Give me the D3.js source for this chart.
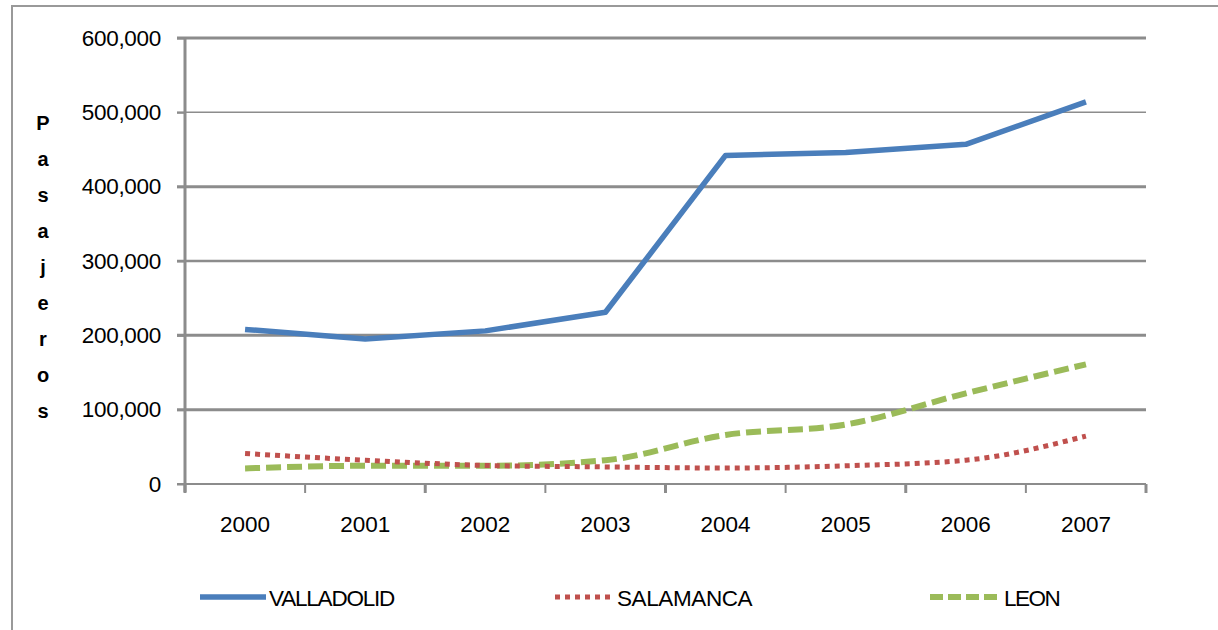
<!DOCTYPE html>
<html><head><meta charset="utf-8">
<script src="https://cdn.jsdelivr.net/npm/d3@7"></script>
<style>
html,body{margin:0;padding:0;background:#fff;}
svg{display:block;}
text{font-family:"Liberation Sans",Arial,sans-serif;}
</style></head>
<body>
<script>
const years = ["2000","2001","2002","2003","2004","2005","2006","2007"];
const valladolid = [208000,195000,206000,231000,442000,446000,457000,514000];
const salamanca = [41000,32000,25000,23000,21500,24500,32000,64500];
const leon = [21000,24500,24500,32000,66000,80000,122000,161000];
const yTicks = [0,100000,200000,300000,400000,500000,600000];
const yLabelText = "Pasajeros";

const W=1218,H=630;
const svg=d3.select("body").append("svg").attr("width",W).attr("height",H);

// frame
svg.append("path").attr("d","M12,630 L12,6 L1218,6").attr("fill","none").attr("stroke","#999").attr("stroke-width",2);

const x=d3.scaleBand().domain(years).range([185,1146]);
const y=d3.scaleLinear().domain([0,600000]).range([484,38]);

// gridlines
const gw={0:2,100000:3,200000:3,300000:2.5,400000:3,500000:1.5,600000:3};
svg.append("g").selectAll("line").data(yTicks.filter(d=>d>0)).join("line")
  .attr("x1",177).attr("x2",1146).attr("y1",d=>y(d)).attr("y2",d=>y(d))
  .attr("stroke","#8c8c8c").attr("stroke-width",d=>gw[d]);

// y axis
const ya=svg.append("g").attr("transform","translate(185,0)")
  .call(d3.axisLeft(y).tickValues(yTicks).tickSize(8).tickPadding(16).tickFormat(d3.format(",")));
ya.select(".domain").attr("stroke","#8c8c8c").attr("stroke-width",3).attr("d","M0,38V492");
ya.selectAll(".tick line").attr("stroke","#8c8c8c").attr("stroke-width",2);
ya.selectAll("text").attr("font-size",22.5).attr("fill","#000").attr("letter-spacing",-0.3)
  .attr("font-family","Liberation Sans, Arial, sans-serif");

// x axis
const xa=svg.append("g").attr("transform","translate(0,484)")
  .call(d3.axisBottom(x).tickSize(0).tickPadding(32));
xa.select(".domain").attr("stroke","#8c8c8c").attr("stroke-width",2).attr("d","M177,0H1146");
xa.selectAll("text").attr("font-size",22.5).attr("fill","#000").attr("font-family","Liberation Sans, Arial, sans-serif");
const bounds=[...years.map(d=>x(d)),x.range()[1]];
svg.append("g").selectAll("line").data(bounds).join("line")
  .attr("x1",d=>d).attr("x2",d=>d).attr("y1",484).attr("y2",493)
  .attr("stroke","#8c8c8c").attr("stroke-width",(d,i)=>i%2?2:3);

// y label stacked
svg.append("g").selectAll("text").data(yLabelText.split("")).join("text")
  .attr("x",43).attr("y",(d,i)=>129.5+i*36.1).attr("text-anchor","middle")
  .attr("font-size",20).attr("font-weight","bold").attr("fill","#000").text(d=>d);

const line=d3.line().x((d,i)=>x(years[i])+x.bandwidth()/2).y(d=>y(d)).curve(d3.curveMonotoneX);
const lineStraight=d3.line().x((d,i)=>x(years[i])+x.bandwidth()/2).y(d=>y(d));

svg.append("path").datum(valladolid).attr("d",lineStraight).attr("fill","none")
  .attr("stroke","#4a7ebb").attr("stroke-width",5.5).attr("stroke-linejoin","round");
svg.append("path").datum(leon).attr("d",line).attr("fill","none")
  .attr("stroke","#9bbb59").attr("stroke-width",6).attr("stroke-dasharray","15,6");
svg.append("path").datum(salamanca).attr("d",line).attr("fill","none")
  .attr("stroke","#c0504d").attr("stroke-width",5).attr("stroke-dasharray","5,5");

// legend
const legend=[
  {name:"VALLADOLID",color:"#4a7ebb",dash:null,w:5.5,x0:200,x1:266,tx:269,ls:-1.2},
  {name:"SALAMANCA",color:"#c0504d",dash:"5,5",w:5,x0:555,x1:615,tx:617,ls:-0.4},
  {name:"LEON",color:"#9bbb59",dash:"13,5",w:6,x0:930,x1:1000,tx:1004,ls:-1.5}
];
const lg=svg.append("g");
legend.forEach(l=>{
  lg.append("line").attr("x1",l.x0).attr("x2",l.x1).attr("y1",597).attr("y2",597)
    .attr("stroke",l.color).attr("stroke-width",l.w).attr("stroke-dasharray",l.dash);
  lg.append("text").attr("x",l.tx).attr("y",606).attr("font-size",22.5).attr("letter-spacing",l.ls)
    .attr("fill","#000").text(l.name);
});
</script>
</body></html>
